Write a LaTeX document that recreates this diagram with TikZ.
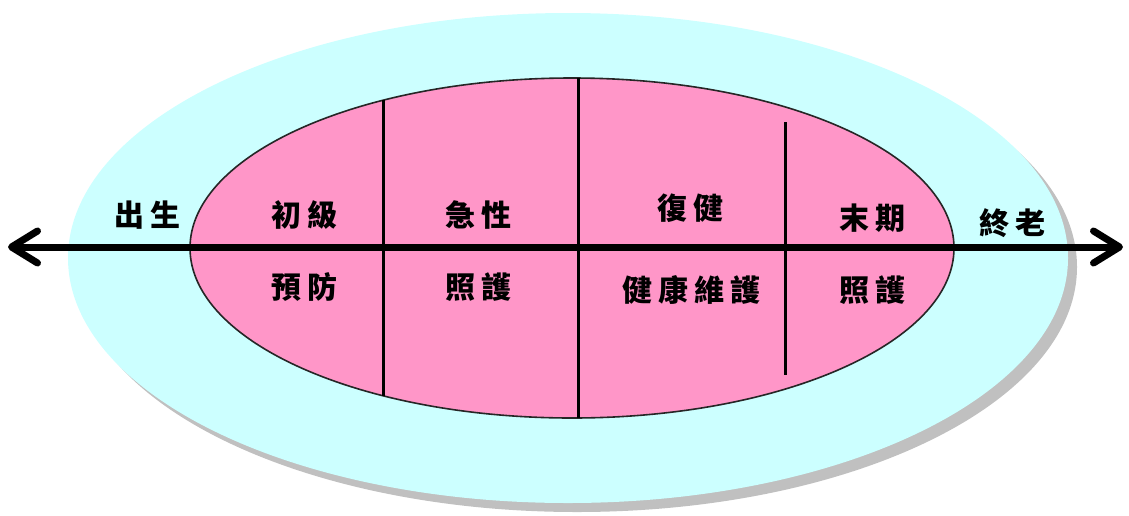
\documentclass[tikz,border=0pt]{standalone}
\usepackage{fontspec}
\newfontfamily\cjk{Noto Sans CJK TC}
\usetikzlibrary{shapes.geometric,arrows.meta}
\definecolor{cyanfill}{HTML}{CCFFFF}
\definecolor{pinkfill}{HTML}{FF96C8}
\definecolor{shadowgray}{HTML}{C0C0C0}
\tikzset{
  lbl/.style={font=\cjk\bfseries\fontsize{30}{30}\selectfont, text=black, inner sep=0pt},
  divider/.style={line width=3pt, black},
  axis/.style={line width=7pt, black, {Straight Barb[length=26pt,width=32pt,round]}-{Straight Barb[length=26pt,width=32pt,round]}}
}
\newcommand{\gp}{\hspace{6pt}}
\begin{document}
\begin{tikzpicture}[x=1pt,y=-1pt]
\useasboundingbox (0,0) rectangle (1129,515);
% shadow and outer ellipse
\node[ellipse, fill=shadowgray, minimum width=1000pt, minimum height=490pt, inner sep=0pt] (shadow) at (577,267) {};
\node[ellipse, fill=cyanfill, minimum width=1000pt, minimum height=490pt, inner sep=0pt] (outer) at (568,258) {};
% inner ellipse
\node[ellipse, fill=pinkfill, draw=black!85, line width=1.6pt, minimum width=764pt, minimum height=340pt, inner sep=0pt] (inner) at (572,248) {};
% dividers
\coordinate (d1t) at (383,100); \coordinate (d1b) at (383,396);
\coordinate (d2t) at (578,78);  \coordinate (d2b) at (578,418);
\coordinate (d3t) at (785,122); \coordinate (d3b) at (785,375);
\draw[divider] (d1t) -- (d1b);
\draw[divider] (d2t) -- (d2b);
\draw[divider] (d3t) -- (d3b);
% axis
\coordinate (L) at (8,247);
\coordinate (R) at (1123,247);
\draw[axis] (L) -- (R);
% labels
\node[lbl] (birth) at (147,215) {出\gp 生};
\node[lbl] (end) at (1012,223) {終\gp 老};
\node[lbl] (a1) at (304,215) {初\gp 級};
\node[lbl] (a2) at (304,287) {預\gp 防};
\node[lbl] (b1) at (478,215) {急\gp 性};
\node[lbl] (b2) at (478,287) {照\gp 護};
\node[lbl] (c1) at (690,208) {復\gp 健};
\node[lbl] (c2) at (691,290) {健\gp 康\gp 維\gp 護};
\node[lbl] (e1) at (872,218) {末\gp 期};
\node[lbl] (e2) at (872,290) {照\gp 護};
\end{tikzpicture}
\end{document}
